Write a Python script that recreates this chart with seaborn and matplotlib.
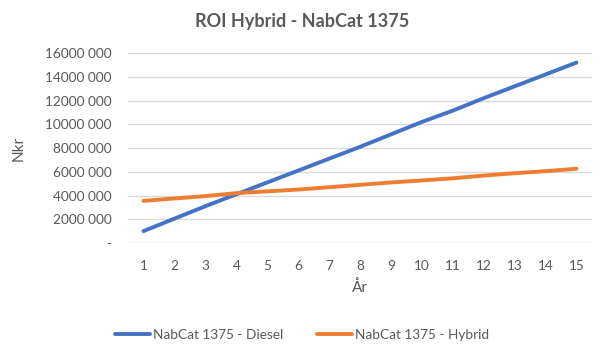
import pandas as pd
import matplotlib
matplotlib.use("Agg")
import matplotlib.pyplot as plt
import seaborn as sns

years = list(range(1, 16))
diesel = [1.0e6, 2.05e6, 3.1e6, 4.1e6, 5.1e6, 6.1e6, 7.1e6, 8.1e6, 9.15e6,
          10.2e6, 11.15e6, 12.2e6, 13.2e6, 14.2e6, 15.2e6]
hybrid = [3.55e6, 3.75e6, 3.95e6, 4.2e6, 4.35e6, 4.5e6, 4.7e6, 4.9e6, 5.1e6,
          5.27e6, 5.45e6, 5.68e6, 5.88e6, 6.05e6, 6.26e6]
series = ['NabCat 1375 - Diesel', 'NabCat 1375 - Hybrid']
colors = ['#4472C4', '#ED7D31']

df = pd.DataFrame({'År': years * 2,
                   'Nkr': diesel + hybrid,
                   'serie': [series[0]] * 15 + [series[1]] * 15})

sns.set_style('white')
plt.rcParams['font.family'] = ['Lato', 'DejaVu Sans']
grey = '#595959'

fig = plt.figure(figsize=(6.04, 3.54), dpi=100)
ax = fig.add_axes([0.212, 0.3136, 0.768, 0.5364])
sns.lineplot(data=df, x='År', y='Nkr', hue='serie', palette=colors,
             linewidth=2.8, ax=ax, legend=False)

ax.set_xlim(0.5, 15.5)
ax.set_ylim(0, 16e6)
ax.set_xticks(years)
ax.set_yticks(range(0, 16000001, 2000000))

def fmt(v, p):
    if v == 0:
        return '-'
    return f"{int(v // 1000)} {int(v % 1000):03d}"

ax.yaxis.set_major_formatter(matplotlib.ticker.FuncFormatter(fmt))
ax.tick_params(axis='both', length=0, labelsize=9.8, colors=grey)
ax.tick_params(axis='x', pad=12)
ax.tick_params(axis='y', pad=12)
ax.grid(axis='y', color='#D9D9D9', linewidth=1)
ax.set_axisbelow(True)
for s in ax.spines.values():
    s.set_visible(False)

ax.set_xlabel('År', fontsize=11, color=grey, labelpad=6)
ax.set_ylabel('Nkr', fontsize=11, color=grey, labelpad=14)
fig.text(0.5, 0.94, 'ROI Hybrid - NabCat 1375', ha='center', va='center',
         fontsize=13, fontweight='bold', color=grey)

handles = [plt.Line2D([], [], color=c, linewidth=2.8) for c in colors]
fig.legend(handles, series, loc='center', bbox_to_anchor=(0.5, 0.055), ncol=2,
           frameon=False, fontsize=9.8, labelcolor=grey, handlelength=2.6,
           handletextpad=0.2, columnspacing=2.5)

plt.savefig('out.png', dpi=100)
